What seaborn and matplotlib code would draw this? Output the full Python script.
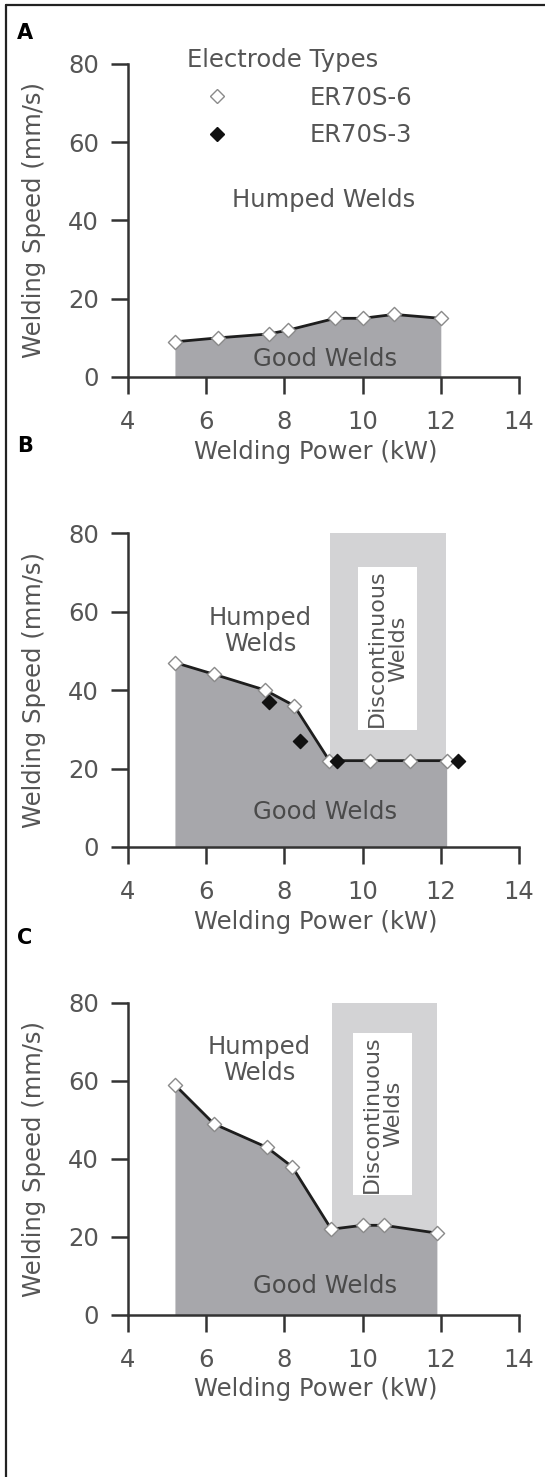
import numpy as np
import pandas as pd
import matplotlib.pyplot as plt
from matplotlib.lines import Line2D
from matplotlib.patches import Rectangle
import seaborn as sns

sns.set_style("ticks")
plt.rcParams["font.family"] = ["DejaVu Sans"]

# ── Data ────────────────────────────────────────────────────────────────────
power_a_er6 = [5.2, 6.3, 7.6, 8.1, 9.3, 10.0, 10.8, 12.0]
speed_a_er6 = [9, 10, 11, 12, 15, 15, 16, 15]

power_b_er6 = [5.2, 6.2, 7.5, 8.25, 9.15, 10.2, 11.2, 12.15]
speed_b_er6 = [47, 44, 40, 36, 22, 22, 22, 22]
power_b_er3 = [7.6, 8.4, 9.35, 12.45]
speed_b_er3 = [37, 27, 22, 22]

power_c_er6 = [5.2, 6.2, 7.55, 8.2, 9.2, 10.0, 10.55, 11.9]
speed_c_er6 = [59, 49, 43, 38, 22, 23, 23, 21]

# discontinuous-weld regions (power range, inner label box power/speed range)
disc_b = (9.17, 12.13)
disc_b_box = (9.88, 11.39, 29.8, 71.4)
disc_c = (9.22, 11.9)
disc_c_box = (9.75, 11.26, 30.8, 72.4)

x_ticks = [4, 6, 8, 10, 12, 14]
y_ticks = [0, 20, 40, 60, 80]

# ── Style ───────────────────────────────────────────────────────────────────
DARK = "#a7a7ab"
LIGHT = "#d3d3d5"
TXT = "#555555"
AXC = "#333333"
FS = 17.5

fig = plt.figure(figsize=(5.45, 14.77), dpi=100)
W, H = 545, 1477


def make_axes(top_px, bottom_px):
    ax = fig.add_axes([128 / W, 1 - bottom_px / H, (519 - 128) / W,
                       (bottom_px - top_px) / H])
    ax.set_xlim(4, 14)
    ax.set_ylim(0, 80)
    ax.set_xticks(x_ticks)
    ax.set_yticks(y_ticks)
    sns.despine(ax=ax)
    for s in ["left", "bottom"]:
        ax.spines[s].set_color(AXC)
        ax.spines[s].set_linewidth(1.8)
    ax.tick_params(axis="both", direction="out", length=12, width=1.8,
                   color=AXC, labelsize=FS, labelcolor=TXT)
    ax.tick_params(axis="x", pad=12)
    ax.tick_params(axis="y", pad=9)
    ax.set_xlabel("Welding Power (kW)", fontsize=FS, color=TXT)
    ax.set_ylabel("Welding Speed (mm/s)", fontsize=FS, color=TXT)
    ax.xaxis.set_label_coords(0.48, -0.2)
    ax.yaxis.set_label_coords(-0.21, 0.5)
    ax.patch.set_alpha(0)
    return ax


def open_points(ax, x, y):
    sns.scatterplot(x=x, y=y, ax=ax, marker="D", s=52, color="white",
                    edgecolor="#8a8a8a", linewidth=1.0, zorder=5, legend=False)


def filled_points(ax, x, y):
    sns.scatterplot(x=x, y=y, ax=ax, marker="D", s=52, color="#111111",
                    edgecolor="#111111", linewidth=1.0, zorder=6, legend=False)


def boundary(ax, x, y):
    ax.fill_between(x, y, 0, color=DARK, lw=0, zorder=1)
    sns.lineplot(x=x, y=y, ax=ax, sort=False, color="#1e1e1e", lw=2.0,
                 zorder=4)


def disc_region(ax, span, box):
    ax.axvspan(span[0], span[1], ymin=0, ymax=1, color=LIGHT, lw=0, zorder=0)
    ax.add_patch(Rectangle((box[0], box[2]), box[1] - box[0], box[3] - box[2],
                           facecolor="white", lw=0, zorder=0.5))
    ax.text((box[0] + box[1]) / 2, (box[2] + box[3]) / 2,
            "Discontinuous\nWelds", rotation=90, ha="center", va="center",
            fontsize=16, color=TXT, linespacing=1.1, zorder=2)


# ── Panel A ─────────────────────────────────────────────────────────────────
ax_a = make_axes(64, 377)
boundary(ax_a, power_a_er6, speed_a_er6)
open_points(ax_a, power_a_er6, speed_a_er6)
ax_a.text(9.0, 45.2, "Humped Welds", ha="center", va="center",
          fontsize=FS, color=TXT)
ax_a.text(9.04, 4.6, "Good Welds", ha="center", va="center",
          fontsize=FS, color="#4a4a4a", zorder=3)
handles = [
    Line2D([], [], ls="none", marker="D", markersize=7,
           markerfacecolor="white", markeredgecolor="#8a8a8a"),
    Line2D([], [], ls="none", marker="D", markersize=7,
           markerfacecolor="#111111", markeredgecolor="#111111"),
]
leg = ax_a.legend(handles, ["ER70S-6", "ER70S-3"], title="Electrode Types",
                  loc="upper left", bbox_to_anchor=(4.62, 84.0),
                  bbox_transform=ax_a.transData, frameon=False,
                  fontsize=FS, title_fontsize=FS, labelcolor=TXT,
                  handlelength=5.3, handletextpad=1.17, labelspacing=0.55,
                  borderpad=0, borderaxespad=0)
leg.get_title().set_color(TXT)

# ── Panel B ─────────────────────────────────────────────────────────────────
ax_b = make_axes(533, 847)
disc_region(ax_b, disc_b, disc_b_box)
boundary(ax_b, power_b_er6, speed_b_er6)
sns.lineplot(x=[power_b_er6[-1], power_b_er3[-1]],
             y=[speed_b_er6[-1], speed_b_er3[-1]], ax=ax_b,
             color="#1e1e1e", lw=2.0, zorder=4)
open_points(ax_b, power_b_er6, speed_b_er6)
filled_points(ax_b, power_b_er3, speed_b_er3)
ax_b.text(7.39, 55.1, "Humped\nWelds", ha="center", va="center",
          fontsize=FS, color=TXT, linespacing=1.1)
ax_b.text(9.04, 9.0, "Good Welds", ha="center", va="center",
          fontsize=FS, color="#4a4a4a", zorder=3)

# ── Panel C ─────────────────────────────────────────────────────────────────
ax_c = make_axes(1003, 1315)
disc_region(ax_c, disc_c, disc_c_box)
boundary(ax_c, power_c_er6, speed_c_er6)
open_points(ax_c, power_c_er6, speed_c_er6)
ax_c.text(7.35, 65.4, "Humped\nWelds", ha="center", va="center",
          fontsize=FS, color=TXT, linespacing=1.1)
ax_c.text(9.04, 7.5, "Good Welds", ha="center", va="center",
          fontsize=FS, color="#4a4a4a", zorder=3)

# ── Frame and panel letters ─────────────────────────────────────────────────
fig.add_artist(Line2D([6 / W, 1], [1 - 5 / H, 1 - 5 / H],
                      transform=fig.transFigure, color="#222222", lw=1.6))
fig.add_artist(Line2D([6 / W, 6 / W], [0, 1 - 5 / H],
                      transform=fig.transFigure, color="#222222", lw=1.6))
for letter, ypx in [("A", 33), ("B", 446), ("C", 938)]:
    fig.text(17 / W, 1 - ypx / H, letter, ha="left", va="center",
             fontsize=15, fontweight="bold", color="black")

fig.savefig("out.png", dpi=100)
